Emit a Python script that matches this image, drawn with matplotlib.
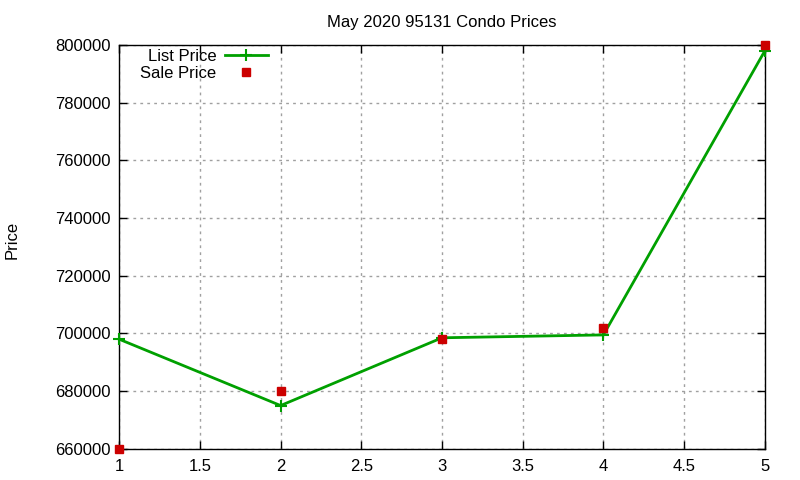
import matplotlib
matplotlib.use('Agg')
import matplotlib.pyplot as plt

# Data
x = [1, 2, 3, 4, 5]
list_price = [698000, 675000, 698500, 699500, 798000]
sale_price = [660000, 680000, 698000, 702000, 800000]

plt.rcParams['font.family'] = ['Liberation Sans', 'DejaVu Sans']
plt.rcParams['font.size'] = 12

fig = plt.figure(figsize=(8, 4.8), dpi=100)
ax = fig.add_axes([0.149, 0.065, 0.807, 0.841])

ax.plot(x, list_price, color='#00a000', lw=2, marker='+', ms=9, mew=1.5,
        label='List Price', clip_on=False, zorder=3)
ax.plot(x, sale_price, ls='none', color='#cc0000', marker='s', ms=6,
        label='Sale Price', clip_on=False, zorder=4)

ax.set_xlim(1, 5)
ax.set_ylim(660000, 800000)
ax.set_xticks([1, 1.5, 2, 2.5, 3, 3.5, 4, 4.5, 5])
ax.set_xticklabels(['1', '1.5', '2', '2.5', '3', '3.5', '4', '4.5', '5'])
ax.set_yticks(range(660000, 800001, 20000))
ax.set_yticklabels([str(v) for v in range(660000, 800001, 20000)])
ax.tick_params(direction='in', top=True, right=True, length=6, width=1)
ax.tick_params(axis='x', pad=7)
ax.tick_params(axis='y', pad=6)
ax.grid(True, color='#a0a0a0', ls=(0, (2, 3)), lw=1)
for s in ax.spines.values():
    s.set_linewidth(1)

ax.set_title('May 2020 95131 Condo Prices', fontsize=12, pad=13)
fig.text(0.015, 0.5, 'Price', rotation=90, va='center', ha='center', fontsize=12)

ax.legend(loc='upper right', bbox_to_anchor=(268 / 800, 1 - 49 / 480),
          bbox_transform=fig.transFigure, markerfirst=False,
          frameon=False, handlelength=2.6, handletextpad=0.5, borderpad=0,
          borderaxespad=0, labelspacing=0.1, fontsize=12)

fig.savefig('out.png', dpi=100)
